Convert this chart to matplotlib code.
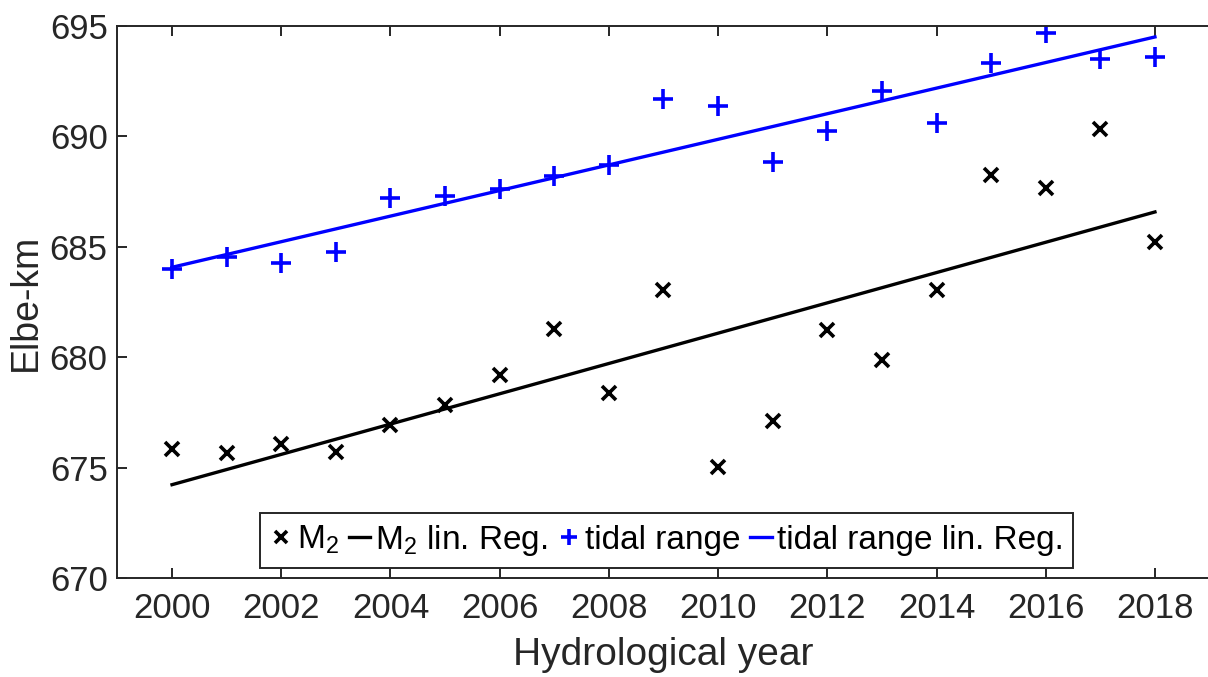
import numpy as np
import matplotlib
matplotlib.use("Agg")
import matplotlib.pyplot as plt

# Hydrological years and positions (Elbe-km)
years = list(range(2000, 2019))
m2_km = [675.83, 675.68, 676.07, 675.71, 676.92, 677.85, 679.19, 681.26, 678.36, 683.05,
         675.03, 677.11, 681.23, 679.87, 683.04, 688.25, 687.68, 690.32, 685.20]
tidal_range_km = [684.00, 684.52, 684.25, 684.78, 687.20, 687.30, 687.60, 688.20, 688.70, 691.70,
                  691.38, 688.85, 690.26, 692.07, 690.59, 693.31, 694.67, 693.49, 693.61]
x_ticks = list(range(2000, 2019, 2))
y_ticks = [670, 675, 680, 685, 690, 695]

plt.rcParams['font.family'] = ['Liberation Sans', 'DejaVu Sans']
plt.rcParams['mathtext.default'] = 'regular'

dark = '#262626'
fig = plt.figure(figsize=(12.08, 6.77), dpi=100)
ax = fig.add_axes([0.0972, 0.1462, 0.9041, 0.8154])

x = np.array(years, dtype=float)
m2 = np.array(m2_km)
tr = np.array(tidal_range_km)
m2_fit = np.polyval(np.polyfit(x, m2, 1), x)
tr_fit = np.polyval(np.polyfit(x, tr, 1), x)

ax.plot(x, m2, linestyle='none', marker='x', color='black', markersize=10,
        markeredgewidth=2.6, label='M$_2$')
ax.plot(x, m2_fit, color='black', linewidth=2.4, label='M$_2$ lin. Reg.')
ax.plot(x, tr, linestyle='none', marker='+', color='blue', markersize=14,
        markeredgewidth=2.6, label='tidal range')
ax.plot(x, tr_fit, color='blue', linewidth=2.4, label='tidal range lin. Reg.')

ax.set_xlim(1999, 2019)
ax.set_ylim(670, 695)
ax.set_xticks(x_ticks)
ax.set_yticks(y_ticks)

for s in ax.spines.values():
    s.set_color(dark)
    s.set_linewidth(1.4)
ax.spines['right'].set_visible(False)

ax.tick_params(axis='both', direction='in', length=7, width=1.4, color=dark,
               labelcolor=dark, labelsize=25, top=True, right=False)
ax.tick_params(axis='x', pad=10)
ax.tick_params(axis='y', pad=7)

ax.set_xlabel('Hydrological year', fontsize=28, color=dark, labelpad=9)
ax.set_ylabel('Elbe-km', fontsize=27, color=dark, labelpad=4)

leg = ax.legend(loc='lower center', ncol=4, fontsize=24, frameon=True,
                fancybox=False, framealpha=1, edgecolor=dark,
                handlelength=0.65, handletextpad=0.15, columnspacing=0.3,
                borderpad=0.3, borderaxespad=0.3, bbox_to_anchor=(0.503, 0.0),
                markerscale=0.8)
leg.get_frame().set_linewidth(1.4)
for t in leg.get_texts():
    t.set_color('black')

fig.savefig('out.png', dpi=100)
